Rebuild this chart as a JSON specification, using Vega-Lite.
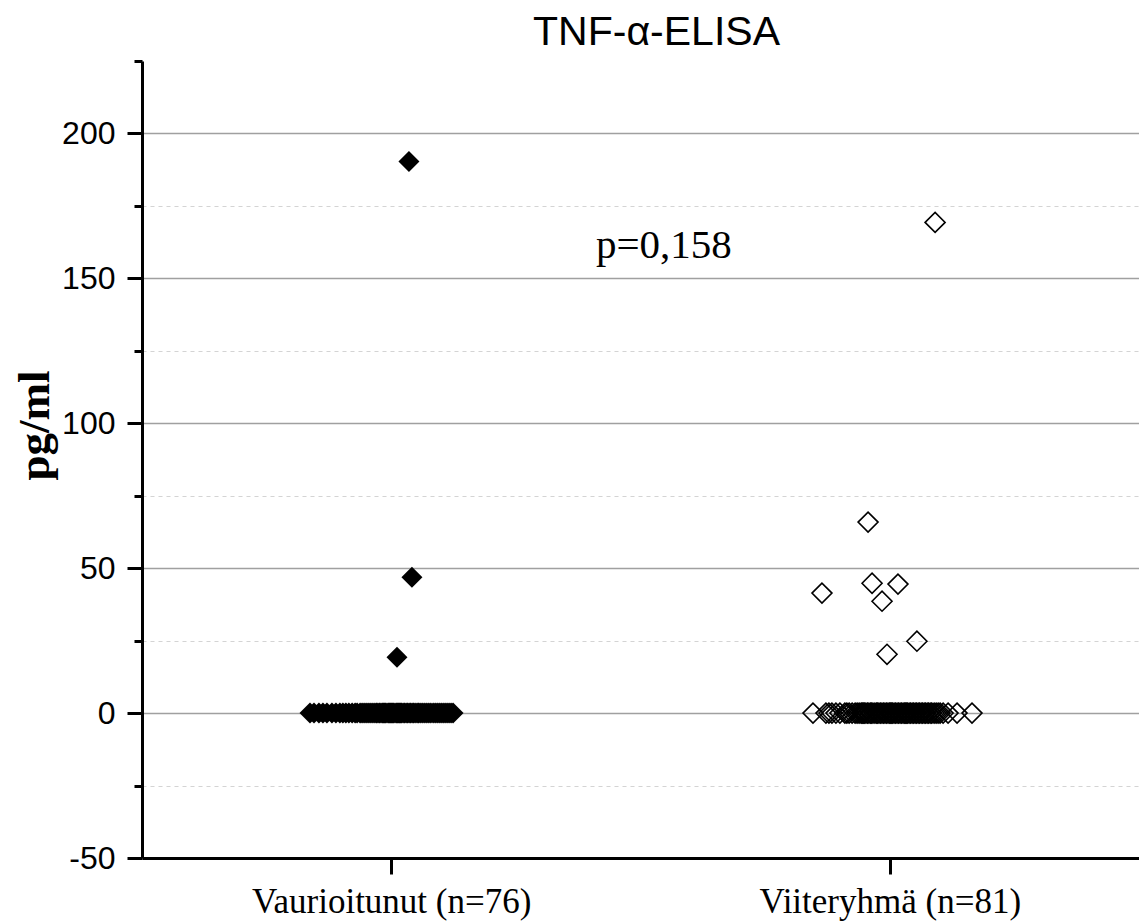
{
  "$schema": "https://vega.github.io/schema/vega-lite/v6.json",
  "autosize": {"type": "none"},
  "padding": {"left": 142, "top": 61, "right": 0, "bottom": 63},
  "width": 997,
  "height": 797,
  "background": "white",
  "config": {"view": {"stroke": null}},
  "title": {
    "text": "TNF-α-ELISA",
    "font": "Liberation Sans",
    "fontSize": 41,
    "fontWeight": "normal",
    "color": "black",
    "anchor": "middle",
    "baseline": "alphabetic",
    "offset": -24,
    "dx": 16,
    "dy": 17
  },
  "datasets": {
    "vaurioitunut": [
      {"x": 1.071, "v": 190.3}, {"x": 1.083, "v": 46.9}, {"x": 1.023, "v": 19.3},
      {"x": 0.674, "v": 0}, {"x": 0.690, "v": 0}, {"x": 0.710, "v": 0}, {"x": 0.726, "v": 0}, {"x": 0.742, "v": 0},
      {"x": 0.762, "v": 0}, {"x": 0.778, "v": 0}, {"x": 0.794, "v": 0}, {"x": 0.806, "v": 0}, {"x": 0.818, "v": 0},
      {"x": 0.830, "v": 0}, {"x": 0.843, "v": 0}, {"x": 0.855, "v": 0}, {"x": 0.863, "v": 0}, {"x": 0.875, "v": 0},
      {"x": 0.883, "v": 0}, {"x": 0.891, "v": 0}, {"x": 0.899, "v": 0}, {"x": 0.907, "v": 0}, {"x": 0.915, "v": 0},
      {"x": 0.923, "v": 0}, {"x": 0.931, "v": 0}, {"x": 0.939, "v": 0}, {"x": 0.943, "v": 0}, {"x": 0.951, "v": 0},
      {"x": 0.955, "v": 0}, {"x": 0.963, "v": 0}, {"x": 0.967, "v": 0}, {"x": 0.971, "v": 0}, {"x": 0.975, "v": 0},
      {"x": 0.979, "v": 0}, {"x": 0.987, "v": 0}, {"x": 0.991, "v": 0}, {"x": 0.995, "v": 0}, {"x": 0.999, "v": 0},
      {"x": 1.003, "v": 0}, {"x": 1.007, "v": 0}, {"x": 1.011, "v": 0}, {"x": 1.019, "v": 0}, {"x": 1.023, "v": 0},
      {"x": 1.027, "v": 0}, {"x": 1.031, "v": 0}, {"x": 1.035, "v": 0}, {"x": 1.039, "v": 0}, {"x": 1.043, "v": 0},
      {"x": 1.051, "v": 0}, {"x": 1.055, "v": 0}, {"x": 1.063, "v": 0}, {"x": 1.067, "v": 0}, {"x": 1.075, "v": 0},
      {"x": 1.079, "v": 0}, {"x": 1.087, "v": 0}, {"x": 1.091, "v": 0}, {"x": 1.099, "v": 0}, {"x": 1.107, "v": 0},
      {"x": 1.111, "v": 0}, {"x": 1.119, "v": 0}, {"x": 1.127, "v": 0}, {"x": 1.135, "v": 0}, {"x": 1.143, "v": 0},
      {"x": 1.151, "v": 0}, {"x": 1.159, "v": 0}, {"x": 1.168, "v": 0}, {"x": 1.176, "v": 0}, {"x": 1.184, "v": 0},
      {"x": 1.192, "v": 0}, {"x": 1.200, "v": 0}, {"x": 1.208, "v": 0}, {"x": 1.216, "v": 0}, {"x": 1.224, "v": 0},
      {"x": 1.232, "v": 0}, {"x": 1.240, "v": 0}, {"x": 1.248, "v": 0}
    ],
    "viiteryhma": [
      {"x": 3.182, "v": 169.3}, {"x": 2.913, "v": 65.9}, {"x": 2.929, "v": 44.8}, {"x": 3.033, "v": 44.5},
      {"x": 2.728, "v": 41.4}, {"x": 2.969, "v": 38.6}, {"x": 3.109, "v": 24.8}, {"x": 2.989, "v": 20.3},
      {"x": 2.692, "v": 0}, {"x": 2.744, "v": 0}, {"x": 2.756, "v": 0}, {"x": 2.768, "v": 0}, {"x": 2.784, "v": 0},
      {"x": 2.800, "v": 0}, {"x": 2.820, "v": 0}, {"x": 2.828, "v": 0}, {"x": 2.837, "v": 0}, {"x": 2.849, "v": 0},
      {"x": 2.861, "v": 0}, {"x": 2.869, "v": 0}, {"x": 2.877, "v": 0}, {"x": 2.885, "v": 0}, {"x": 2.889, "v": 0},
      {"x": 2.893, "v": 0}, {"x": 2.897, "v": 0}, {"x": 2.901, "v": 0}, {"x": 2.909, "v": 0}, {"x": 2.913, "v": 0},
      {"x": 2.921, "v": 0}, {"x": 2.925, "v": 0}, {"x": 2.929, "v": 0}, {"x": 2.937, "v": 0}, {"x": 2.945, "v": 0},
      {"x": 2.949, "v": 0}, {"x": 2.953, "v": 0}, {"x": 2.961, "v": 0}, {"x": 2.965, "v": 0}, {"x": 2.973, "v": 0},
      {"x": 2.977, "v": 0}, {"x": 2.985, "v": 0}, {"x": 2.989, "v": 0}, {"x": 2.997, "v": 0}, {"x": 3.001, "v": 0},
      {"x": 3.005, "v": 0}, {"x": 3.009, "v": 0}, {"x": 3.013, "v": 0}, {"x": 3.021, "v": 0}, {"x": 3.025, "v": 0},
      {"x": 3.033, "v": 0}, {"x": 3.037, "v": 0}, {"x": 3.045, "v": 0}, {"x": 3.049, "v": 0}, {"x": 3.057, "v": 0},
      {"x": 3.061, "v": 0}, {"x": 3.065, "v": 0}, {"x": 3.069, "v": 0}, {"x": 3.073, "v": 0}, {"x": 3.081, "v": 0},
      {"x": 3.085, "v": 0}, {"x": 3.093, "v": 0}, {"x": 3.097, "v": 0}, {"x": 3.105, "v": 0}, {"x": 3.109, "v": 0},
      {"x": 3.117, "v": 0}, {"x": 3.121, "v": 0}, {"x": 3.129, "v": 0}, {"x": 3.133, "v": 0}, {"x": 3.141, "v": 0},
      {"x": 3.145, "v": 0}, {"x": 3.153, "v": 0}, {"x": 3.157, "v": 0}, {"x": 3.165, "v": 0}, {"x": 3.169, "v": 0},
      {"x": 3.178, "v": 0}, {"x": 3.186, "v": 0}, {"x": 3.194, "v": 0}, {"x": 3.202, "v": 0}, {"x": 3.214, "v": 0},
      {"x": 3.234, "v": 0}, {"x": 3.270, "v": 0}, {"x": 3.330, "v": 0}
    ],
    "note": [{"label": "p=0,158", "x": 2.094, "v": 156.9}]
  },
  "encoding": {
    "x": {
      "field": "x",
      "type": "quantitative",
      "scale": {"domain": [0, 4], "nice": false, "zero": false},
      "axis": {
        "title": null,
        "values": [1, 3],
        "labelExpr": "datum.value === 1 ? 'Vaurioitunut (n=76)' : 'Viiteryhmä (n=81)'",
        "grid": false,
        "domainColor": "black",
        "domainWidth": 3,
        "tickColor": "black",
        "tickWidth": 3,
        "tickSize": 16,
        "labelFont": "Liberation Serif",
        "labelFontSize": 35,
        "labelColor": "black",
        "labelPadding": 10,
        "labelLimit": 0,
        "labelFlush": false,
        "labelOverlap": false
      }
    },
    "y": {
      "field": "v",
      "type": "quantitative",
      "scale": {"domain": [-50, 225], "nice": false, "zero": false},
      "axis": {
        "title": "pg/ml",
        "titleFont": "Liberation Serif",
        "titleFontSize": 45,
        "titleFontWeight": "bold",
        "titleColor": "black",
        "titlePadding": 4,
        "titleY": 364,
        "values": [-50, -25, 0, 25, 50, 75, 100, 125, 150, 175, 200, 225],
        "labelExpr": "(datum.value % 50 === 0 && datum.value <= 200) ? ('' + datum.value) : ''",
        "labelFont": "Liberation Sans",
        "labelFontSize": 32,
        "labelColor": "black",
        "labelPadding": 12,
        "labelFlush": false,
        "labelOverlap": false,
        "domainColor": "black",
        "domainWidth": 3,
        "tickColor": "black",
        "tickWidth": 3,
        "tickSize": {"condition": {"test": "datum.value % 50 === 0", "value": 15}, "value": 8},
        "grid": true,
        "gridColor": {"condition": {"test": "datum.value % 50 === 0", "value": "#a0a0a0"}, "value": "#d4d4d4"},
        "gridDash": {"condition": {"test": "datum.value % 50 === 0", "value": []}, "value": [4, 4]},
        "gridWidth": {"condition": {"test": "datum.value % 50 === 0", "value": 1.5}, "value": 1.2},
        "gridOpacity": {"condition": {"test": "datum.value === 225 || datum.value === -50", "value": 0}, "value": 1}
      }
    }
  },
  "layer": [
    {
      "data": {"name": "vaurioitunut"},
      "mark": {"type": "point", "shape": "diamond", "filled": true, "color": "black", "size": 440, "opacity": 1}
    },
    {
      "data": {"name": "viiteryhma"},
      "mark": {"type": "point", "shape": "diamond", "filled": false, "stroke": "black", "strokeWidth": 1.6, "size": 400, "opacity": 1}
    },
    {
      "data": {"name": "note"},
      "mark": {"type": "text", "font": "Liberation Serif", "fontSize": 41, "color": "black", "align": "center", "baseline": "alphabetic"},
      "encoding": {"text": {"field": "label"}}
    }
  ]
}
